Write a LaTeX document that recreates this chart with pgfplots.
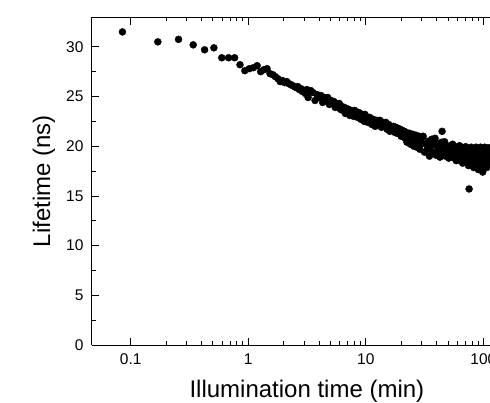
\documentclass[border=0pt]{standalone}
\usepackage{fontspec}
\setmainfont{Liberation Sans}
\usepackage{pgfplots}
\pgfplotsset{compat=1.18}
\pgfplotstableread{
t y
0.085 31.5
0.170 30.5
0.255 30.75
0.340 30.2
0.425 29.7
0.510 29.9
0.595 28.9
0.680 28.9
0.765 28.9
0.850 28.2
0.935 27.6
1.020 27.8
1.105 27.9
1.190 28.1
1.275 27.5
1.360 27.7
1.445 27.8
1.530 27.3
1.615 27.2
1.700 27.0
1.785 26.8
1.870 26.5
1.955 26.6
2.040 26.4
2.125 26.5
2.210 26.3
2.295 26.2
2.380 26.1
2.465 26.0
2.550 25.9
2.635 26.0
2.720 25.7
2.805 25.8
2.890 25.5
2.975 25.6
3.060 25.3
3.145 25.7
3.230 24.9
3.315 25.5
3.400 25.6
3.55 25.4
3.70 24.6
3.85 25.2
4.00 24.9
4.15 25.1
4.30 24.4
4.45 24.9
4.60 24.6
4.75 24.9
4.90 24.2
5.05 24.6
5.20 24.4
5.35 24.5
5.50 23.9
5.65 24.3
5.80 24.1
5.95 24.3
6.10 23.7
6.25 24.0
6.40 23.6
6.55 23.9
6.70 23.3
6.85 23.8
7.00 23.5
7.15 23.7
7.30 23.1
7.45 23.6
7.60 23.3
7.75 23.5
7.90 23.0
8.05 23.6
8.20 23.2
8.35 23.4
8.50 22.9
8.65 23.4
8.80 23.0
8.95 23.3
9.10 22.7
9.25 23.2
9.40 22.8
9.55 23.1
9.70 22.5
9.85 23.2
10.00 22.8
10.4 22.4
10.8 22.9
11.2 22.2
11.6 22.7
12.0 22.0
12.4 22.6
12.8 22.3
13.2 22.6
13.6 21.9
14.0 22.4
14.4 22.1
14.8 22.4
15.2 21.7
15.6 22.2
16.0 21.5
16.4 22.0
16.8 21.7
17.2 22.0
17.6 21.4
18.0 21.9
18.4 21.3
18.8 21.8
19.2 21.5
19.6 21.7
20.0 21.0
20.4 21.6
20.8 21.2
21.2 21.5
21.6 20.8
22.0 21.4
22.4 20.4
22.8 21.2
23.2 20.9
23.6 21.3
24.0 20.2
24.4 21.1
24.8 20.6
25.2 21.2
25.6 20.0
26.0 20.9
26.4 20.5
26.8 21.1
27.2 19.9
27.6 20.8
28.0 20.3
28.4 21.0
28.8 19.7
29.2 20.6
29.6 20.2
30.0 20.9
30.8 21.0
31.6 19.4
32.4 20.25
33.2 19.65
34.0 20.5
34.8 19.0
35.6 19.95
36.4 20.7
37.2 19.4
38.0 20.25
38.8 20.8
39.6 19.1
40.4 20.0
41.2 19.45
42.0 20.3
42.8 18.9
43.6 19.75
44.4 20.4
44.6 21.5
45.2 19.2
46.0 20.0
46.8 20.45
47.6 19.0
48.4 19.75
49.2 19.25
50.0 20.0
50.8 18.8
51.6 19.5
52.4 20.05
53.2 19.1
54.0 19.8
54.8 20.2
55.6 18.85
56.4 19.55
57.2 19.05
58.0 19.8
58.8 18.55
59.6 19.3
60.4 19.95
61.2 18.8
62.0 19.6
62.8 20.05
63.6 18.55
64.4 19.4
65.2 18.9
66.0 19.7
66.8 18.3
67.6 19.15
68.4 19.85
69.2 18.6
70.0 19.4
70.8 19.95
71.6 18.35
72.4 19.2
73.2 18.65
74.0 19.55
74.8 18.05
75.6 19.0
75.7 15.7
76.4 19.7
77.2 18.4
78.0 19.35
78.8 19.9
79.6 18.15
80.4 19.1
81.2 18.5
82.0 19.5
82.8 17.85
83.6 18.85
84.4 19.7
85.2 18.2
86.0 19.25
86.8 19.9
87.6 17.9
88.4 19.0
89.2 18.35
90.0 19.45
90.8 17.65
91.6 18.75
92.4 19.7
93.2 18.0
94.0 19.2
94.8 19.9
95.6 17.7
96.4 18.95
97.2 18.2
98.0 19.4
98.8 17.4
99.6 18.65
100.4 19.65
101.2 18.0
102.0 19.2
102.8 19.9
103.6 17.9
104.4 19.0
105.2 18.4
106.0 19.5
106.8 17.85
107.6 18.85
108.4 19.7
109.2 18.35
110.0 19.3
110.8 19.85
111.6 18.3
112.4 19.1
113.2 18.7
114.0 19.5
114.8 18.2
115.6 19.0
116.4 19.65
117.2 18.5
118.0 19.3
118.8 19.8
119.6 18.35
120.4 19.1
}\lifetimedata
\begin{document}
\begin{tikzpicture}
\begin{axis}[
  scale only axis, width=398pt, height=328pt,
  at={(0pt,0pt)}, anchor=south west,
  xmode=log, xmin=0.0468, xmax=114, ymin=0, ymax=33,
  axis x line=box, axis y line*=left,
  xtick={0.1,1,10,100}, xticklabels={0.1,1,10,100},
  ytick={0,5,...,30}, minor y tick num=1,
  tick align=inside,
  major tick length=7.5pt, minor tick length=4pt,
  axis line style={line width=1pt, -},
  every tick/.style={line width=0.8pt, black},
  /pgf/number format/assume math mode=true,
  tick label style={font=\fontsize{15.5}{18}\selectfont},
  yticklabel style={xshift=-5pt},
  xticklabel style={yshift=-5pt},
  xlabel={Illumination time (min)}, ylabel={Lifetime (ns)},
  every axis x label/.style={at={(axis description cs:0.540,0)}, anchor=base, yshift=-52pt, font=\fontsize{24}{28}\selectfont},
  every axis y label/.style={at={(axis description cs:-0.1206,0.5)}, anchor=center, rotate=90, font=\fontsize{24}{28}\selectfont},
]
\addplot[only marks, mark=*, mark size=3.5pt, black] table[x=t, y=y] {\lifetimedata};
\end{axis}
\pgfresetboundingbox
\path[use as bounding box] (-92pt,-57pt) rectangle (398pt,345pt);
\end{tikzpicture}
\end{document}
